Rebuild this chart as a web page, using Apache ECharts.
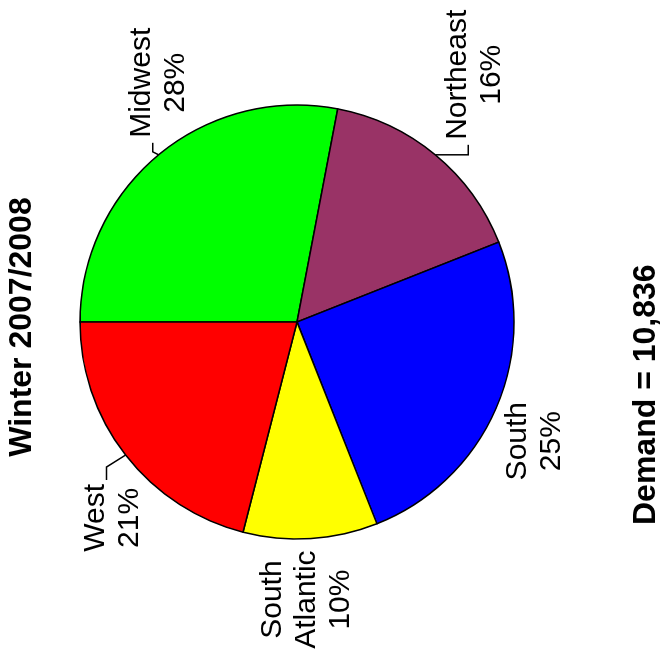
<!DOCTYPE html>
<html>
<head>
<meta charset="utf-8">
<script src="https://cdn.jsdelivr.net/npm/echarts@6/dist/echarts.min.js"></script>
<style>
  html, body { margin: 0; padding: 0; background: #fff; overflow: hidden; width: 662px; height: 654px; }
  /* The chart is laid out upright, then turned a quarter turn so it reads bottom-to-top */
  #chart { position: absolute; left: 4px; top: -4px; width: 654px; height: 662px; transform: rotate(-90deg); }
</style>
</head>
<body>
<div id="chart"></div>
<script>
const regions = ['Midwest', 'Northeast', 'South', 'South Atlantic', 'West'];
const shares = [28, 16, 25, 10, 21];
const sliceColors = ['#00FF00', '#993366', '#0000FF', '#FFFF00', '#FF0000'];
const chartTitle = 'Winter 2007/2008';
const demandTotal = '10,836';

const FONT = '"Liberation Sans", Arial, sans-serif';

// Leader line shape per region: bend offset from the slice edge, then a horizontal run
const leaderShapes = {
  'Midwest':   { bend: [3, -6],   run: 9 },
  'Northeast': { bend: [0, 33],   run: 10 },
  'West':      { bend: [-12, -19], run: -13 }
};
// Labels without a leader line sit at an offset from the slice edge point
const looseLabelOffsets = {
  'South':          [-33, 39],
  'South Atlantic': [-61, -4]
};

const chart = echarts.init(document.getElementById('chart'), null, { renderer: 'canvas' });

chart.setOption({
  backgroundColor: '#ffffff',
  animation: false,
  title: [
    {
      text: chartTitle,
      left: 'center',
      top: 6,
      padding: 0,
      textStyle: { fontFamily: FONT, fontSize: 32, fontWeight: 'bold', color: '#000' }
    },
    {
      text: 'Demand = ' + demandTotal,
      left: 129,
      top: 630,
      padding: 0,
      textStyle: { fontFamily: FONT, fontSize: 32, fontWeight: 'bold', color: '#000' }
    }
  ],
  series: [{
    type: 'pie',
    center: [332, 297],
    radius: 217,
    startAngle: 90,
    clockwise: true,
    avoidLabelOverlap: false,
    itemStyle: { borderColor: '#000', borderWidth: 1.5 },
    label: {
      show: true,
      position: 'outside',
      color: '#000',
      fontFamily: FONT,
      formatter: function (p) {
        const lines = p.name.split(' ').concat([p.value + '%']);
        return lines.map(function (s) { return '{c|' + s + '}'; }).join('\n');
      },
      rich: {
        c: { align: 'center', fontFamily: FONT, fontSize: 30, lineHeight: 34, color: '#000' }
      }
    },
    labelLine: {
      show: true,
      length: 10,
      length2: 10,
      lineStyle: { color: '#000', width: 1.5 }
    },
    labelLayout: function (params) {
      const name = regions[params.dataIndex];
      const p0 = params.labelLinePoints[0];
      const shape = leaderShapes[name];
      if (shape) {
        const p1 = [p0[0] + shape.bend[0], p0[1] + shape.bend[1]];
        const p2 = [p1[0] + shape.run, p1[1]];
        const toRight = shape.run > 0;
        return {
          x: p2[0] + (toRight ? 5 : -4),
          y: p2[1] + 6,
          align: toRight ? 'left' : 'right',
          verticalAlign: 'middle',
          labelLinePoints: [p0, p1, p2]
        };
      }
      const off = looseLabelOffsets[name];
      return {
        x: p0[0] + off[0],
        y: p0[1] + off[1],
        align: 'center',
        verticalAlign: 'middle',
        labelLinePoints: [p0, p0, p0]
      };
    },
    data: regions.map(function (name, i) {
      return {
        name: name,
        value: shares[i],
        itemStyle: { color: sliceColors[i] },
        labelLine: leaderShapes[name] ? {} : { lineStyle: { opacity: 0 } }
      };
    })
  }]
});
</script>
</body>
</html>
